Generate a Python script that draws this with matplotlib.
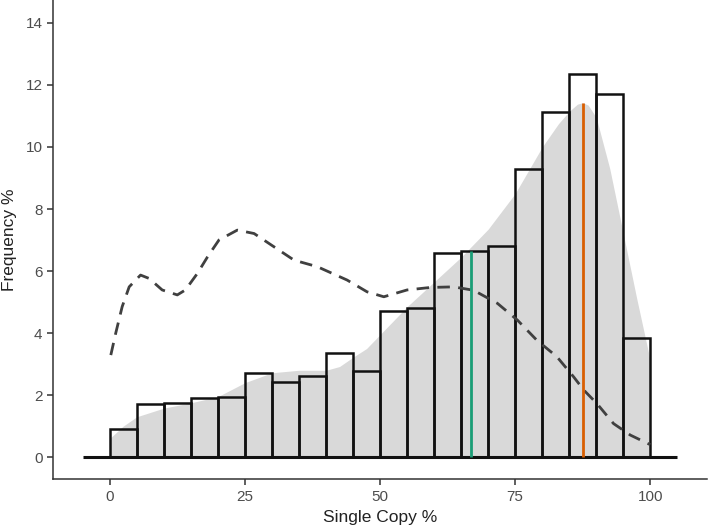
import numpy as np
import matplotlib.pyplot as plt

plt.rcParams['font.family'] = ['Liberation Sans', 'DejaVu Sans']

# histogram: bin edges every 5 %, frequency in %
bin_left = [0, 5, 10, 15, 20, 25, 30, 35, 40, 45, 50, 55, 60, 65, 70, 75, 80, 85, 90, 95]
freq = [0.9, 1.7, 1.76, 1.9, 1.95, 2.72, 2.42, 2.63, 3.35, 2.78,
        4.70, 4.80, 6.57, 6.65, 6.80, 9.28, 11.13, 12.36, 11.71, 3.84]

# grey density curve (scaled to %)
dens_x = [0, 2.5, 5, 10, 15, 20, 25, 30, 35, 40, 42.5, 45, 47.5, 50, 55, 60,
          65, 70, 75, 80, 83, 85, 86.5, 87.5, 88.5, 90, 92.5, 95, 97.5, 100]
dens_y = [0.6, 1.0, 1.3, 1.58, 1.75, 1.95, 2.4, 2.72, 2.8, 2.8, 2.92, 3.22, 3.5,
          3.95, 4.85, 5.65, 6.45, 7.35, 8.5, 10.0, 10.75, 11.15, 11.38, 11.43,
          11.35, 10.95, 9.3, 7.2, 5.1, 3.1]

# dashed reference density
ref_x = [0.2, 1.1, 2.3, 3.6, 5.7, 7.3, 9.7, 12.5, 14.0, 16.2, 18.1, 20.2, 23.6,
         26.7, 30.4, 34.1, 38.4, 43.9, 47.6, 50.7, 55.0, 59.3, 63.6, 67.3,
         71.7, 75.4, 79.0, 82.7, 85.8, 87.7, 90.1, 93.2, 96.3, 100]
ref_y = [3.29, 3.99, 4.85, 5.49, 5.87, 5.76, 5.39, 5.23, 5.39, 5.92, 6.46, 7.0,
         7.32, 7.21, 6.78, 6.35, 6.14, 5.71, 5.33, 5.17, 5.39, 5.47, 5.49, 5.38,
         4.96, 4.42, 3.77, 3.24, 2.59, 2.16, 1.73, 1.08, 0.71, 0.40]

green_x, green_top = 66.9, 6.65
orange_x, orange_top = 87.5, 11.43

fig = plt.figure(figsize=(7.11, 5.30), dpi=100)
ax = fig.add_axes([0.0745, 0.096, 0.92, 0.904])

ax.fill_between(dens_x, 0, dens_y, color='#d9d9d9', lw=0, zorder=1)
ax.bar(bin_left, freq, width=5, align='edge', fill=False,
       edgecolor='#111111', linewidth=1.8, zorder=2)
ax.plot([-5, 105], [0, 0], color='#111111', lw=2.2, zorder=3, solid_capstyle='butt')
ax.plot(ref_x, ref_y, color='#404040', lw=2.0, dashes=(4.5, 3), zorder=4)
ax.vlines(green_x, 0, green_top, color='#1b9e77', lw=2.0, zorder=5)
ax.vlines(orange_x, 0, orange_top, color='#d95f02', lw=2.0, zorder=5)

ax.set_xlim(-10.5, 110.5)
ax.set_ylim(-0.71, 14.74)
ax.set_xticks([0, 25, 50, 75, 100])
ax.set_yticks([0, 2, 4, 6, 8, 10, 12, 14])

for s in ['top', 'right']:
    ax.spines[s].set_visible(False)
for s in ['left', 'bottom']:
    ax.spines[s].set_color('#333333')
    ax.spines[s].set_linewidth(1.1)
ax.tick_params(colors='#333333', labelcolor='#4d4d4d', labelsize=11, length=4, width=1.1)

ax.set_xlabel('Single Copy %', fontsize=12.5, color='#222222', labelpad=5)
ax.set_ylabel('Frequency %', fontsize=12.5, color='#222222', labelpad=6)

fig.savefig('out.png', dpi=100)
